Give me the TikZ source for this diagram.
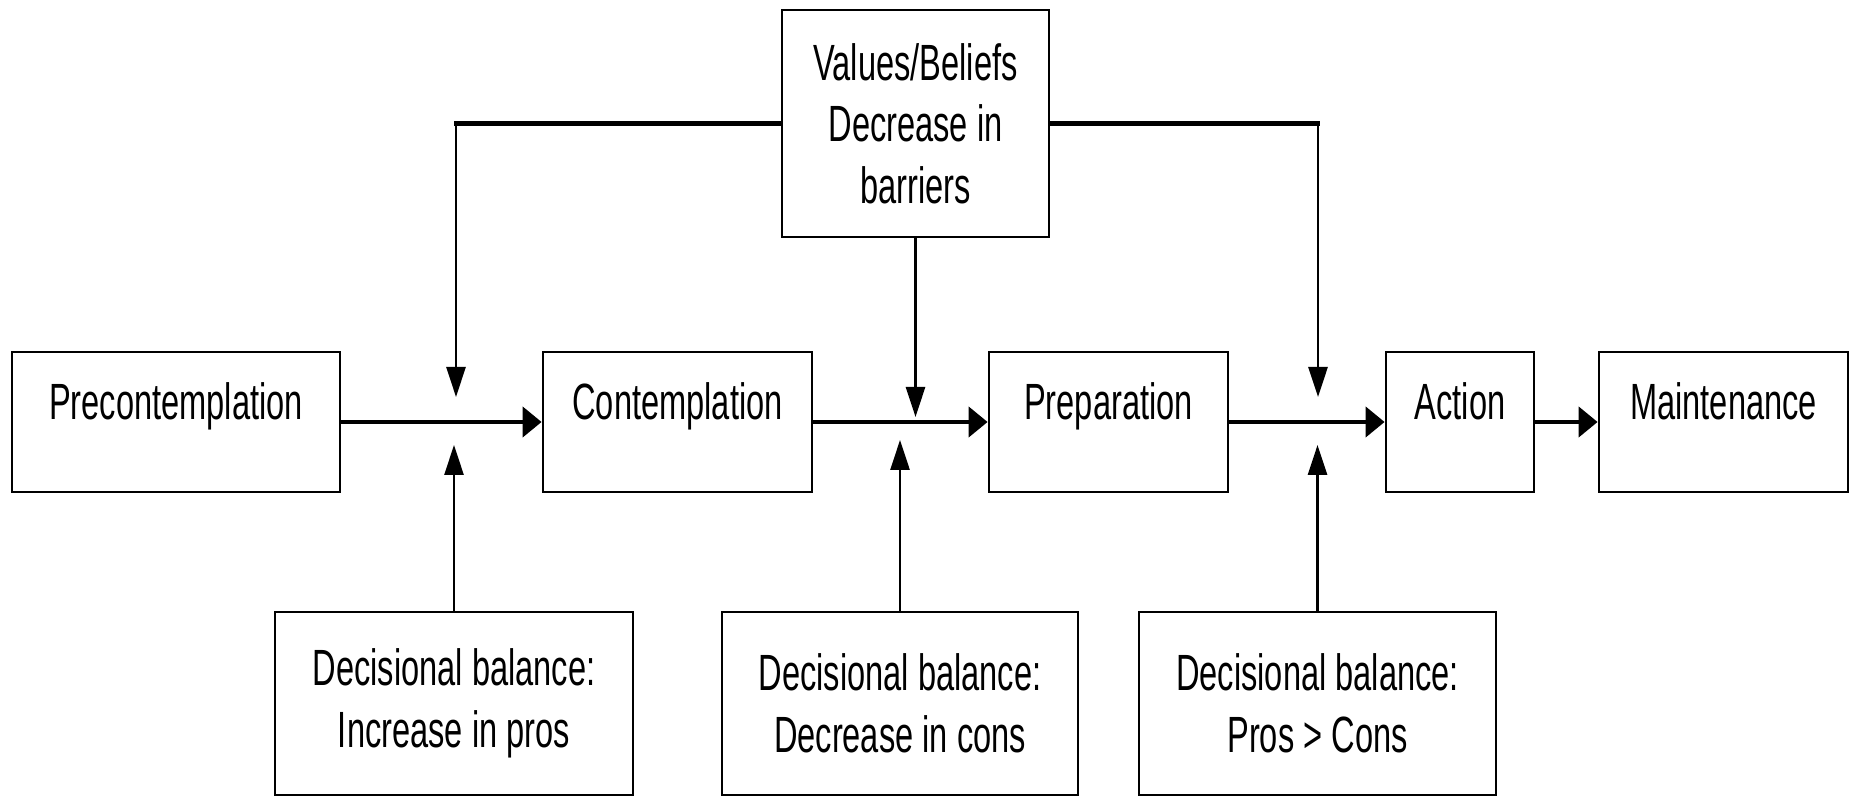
\documentclass[tikz,border=0pt]{standalone}
\usepackage{fontspec}
\setmainfont{Liberation Sans}[FakeStretch=0.64]
\usepackage{tikz}
\usetikzlibrary{arrows.meta}
\tikzstyle{stage} = [draw, line width=0.8pt, inner sep=0pt, text height=0.68cm, text depth=0.72cm]
\tikzstyle{balance} = [draw, line width=0.8pt, inner sep=0pt, align=center, minimum height=1.83cm]
\tikzstyle{flow} = [line width=1.2pt, -{Triangle[length=0.19cm, width=0.3cm]}]
\tikzstyle{feed} = [line width=0.8pt, -{Triangle[length=0.3cm, width=0.19cm]}]
\tikzstyle{bar} = [line width=1.2pt, line cap=rect]

\begin{document}
\begin{tikzpicture}[font=\fontsize{14.5}{17.5}\selectfont]
	\useasboundingbox (0,0) rectangle (18.5,-7.98);
	\node[stage, minimum width=3.28cm] (pre) at (1.76,-4.22) {Precontemplation};
	\node[stage, minimum width=2.69cm] (con) at (6.775,-4.22) {Contemplation};
	\node[stage, minimum width=2.39cm] (prep) at (11.085,-4.22) {Preparation};
	\node[stage, minimum width=1.48cm] (act) at (14.60,-4.22) {Action};
	\node[stage, minimum width=2.49cm] (maint) at (17.235,-4.22) {Maintenance};
	\node[balance, minimum width=2.67cm, minimum height=2.27cm] (vals) at (9.155,-1.235)
		{Values/Beliefs\\Decrease in\\barriers};
	\node[balance, minimum width=3.58cm] (pros) at (4.54,-7.035)
		{Decisional balance:\\Increase in pros};
	\node[balance, minimum width=3.56cm] (cons) at (9.00,-7.035)
		{Decisional balance:\\Decrease in cons};
	\node[balance, minimum width=3.57cm] (both) at (13.175,-7.035)
		{Decisional balance:\\Pros > Cons};
	\coordinate (bend1) at (4.56,-1.235);
	\coordinate (bend3) at (13.18,-1.235);
	\coordinate (down1) at (4.56,-3.97);
	\coordinate (down2) at (9.155,-4.17);
	\coordinate (down3) at (13.18,-3.97);
	\coordinate (up1) at (4.54,-4.45);
	\coordinate (up2) at (9.00,-4.40);
	\coordinate (up3) at (13.175,-4.45);
	\draw[flow] (pre) -- (con);
	\draw[flow] (con) -- (prep);
	\draw[flow] (prep) -- (act);
	\draw[flow] (act) -- (maint);
	\draw[bar] (vals.west) -- (bend1);
	\draw[bar] (vals.east) -- (bend3);
	\draw[feed] (bend1) -- (down1);
	\draw[feed] (vals.south) -- (down2);
	\draw[feed] (bend3) -- (down3);
	\draw[feed] (pros.north) -- (up1);
	\draw[feed] (cons.north) -- (up2);
	\draw[feed] (both.north) -- (up3);
\end{tikzpicture}
\end{document}
